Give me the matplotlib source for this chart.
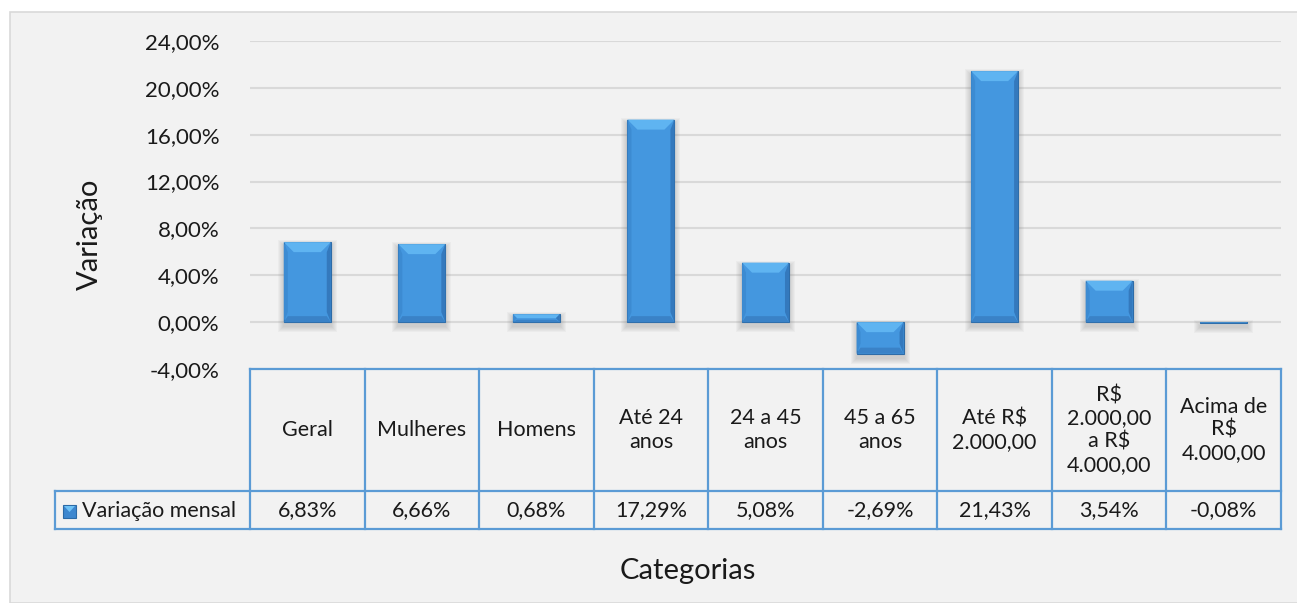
import matplotlib.pyplot as plt
from matplotlib.patches import Rectangle, Polygon
from matplotlib.lines import Line2D

# dados
categorias = ['Geral', 'Mulheres', 'Homens', 'Até 24\nanos', '24 a 45\nanos',
              '45 a 65\nanos', 'Até R$\n2.000,00', 'R$\n2.000,00\na R$\n4.000,00',
              'Acima de\nR$\n4.000,00']
variacao = [6.83, 6.66, 0.68, 17.29, 5.08, -2.69, 21.43, 3.54, -0.08]
rotulos = ['6,83%', '6,66%', '0,68%', '17,29%', '5,08%', '-2,69%', '21,43%', '3,54%', '-0,08%']
serie = 'Variação mensal'
yticks = [-4, 0, 4, 8, 12, 16, 20, 24]

plt.rcParams['font.family'] = ['Lato', 'DejaVu Sans']

W, H = 1297, 603
fig = plt.figure(figsize=(W / 100, H / 100), dpi=100)
fig.patch.set_facecolor('white')

# area do grafico (fundo cinza)
fig.patches.append(Rectangle((10 / W, 0), 1.2, 1 - 12 / H, transform=fig.transFigure,
                             facecolor='#f2f2f2', edgecolor='#d9d9d9', lw=1.2, zorder=-10))

left, right, top, bottom = 250, 1281, 41, 369
ax = fig.add_axes([left / W, 1 - bottom / H, (right - left) / W, (bottom - top) / H])
ax.set_facecolor('none')
n = len(categorias)
ax.set_xlim(-0.5, n - 0.5)
ax.set_ylim(-4, 24)
ax.set_yticks(yticks)
ax.set_yticklabels([f'{v},00%' for v in yticks], fontsize=16, color='#1a1a1a')
ax.set_xticks([])
ax.tick_params(axis='y', length=0, pad=22)
for s in ax.spines.values():
    s.set_visible(False)
ax.grid(axis='y', color='#d9d9d9', lw=1.5, zorder=0)
ax.set_axisbelow(True)

px_x = n / (right - left)      # unidades de dados por pixel
px_y = 28 / (bottom - top)
largura = 0.41


def barra(ax, x, h):
    x0, x1 = x - largura / 2, x + largura / 2
    topo, base = max(0, h), min(0, h)
    # sombra
    for i in range(6):
        r = (6 - i) * 1.0
        ax.add_patch(Rectangle((x0 - r * px_x, base - (4 + r) * px_y),
                               (x1 - x0) + 2 * r * px_x, (topo - base) + 2 * r * px_y,
                               facecolor='#7f7f7f', edgecolor='none', alpha=0.06, zorder=2))
    ax.add_patch(Rectangle((x0, base), x1 - x0, topo - base, facecolor='#4497df',
                           edgecolor='#2e6ca8', lw=0.8, zorder=3))
    by = min(10 * px_y, (topo - base) / 2)
    bx = min(10 * px_x, by / px_y * px_x)
    sx = min(4 * px_x, bx)
    faces = [
        ([(x0, topo), (x1, topo), (x1 - bx, topo - by), (x0 + bx, topo - by)], '#5fb4f1'),
        ([(x0, topo), (x0 + sx, topo - by), (x0 + sx, base + by), (x0, base)], '#3c8bd2'),
        ([(x1, topo), (x1 - sx, topo - by), (x1 - sx, base + by), (x1, base)], '#3479bd'),
        ([(x0, base), (x0 + sx, base + by * 0.6), (x1 - sx, base + by * 0.6), (x1, base)], '#3a82c7'),
    ]
    for pts, c in faces:
        ax.add_patch(Polygon(pts, closed=True, facecolor=c, edgecolor='none', zorder=4))


for i, v in enumerate(variacao):
    barra(ax, i, v)

fig.text(90 / W, 1 - 234 / H, 'Variação', rotation=90, ha='center', va='center',
         fontsize=21, color='#1a1a1a')

# tabela de dados
azul = '#5b9bd5'
col_w = (right - left) / n
linha1, linha2 = 491, 529
leg_x = 55


def fl(xs, ys):
    fig.add_artist(Line2D([x / W for x in xs], [1 - y / H for y in ys], color=azul, lw=1.6,
                          transform=fig.transFigure, zorder=5))


fl([left, right], [bottom, bottom])
fl([leg_x, right], [linha1, linha1])
fl([leg_x, right], [linha2, linha2])
fl([leg_x, leg_x], [linha1, linha2])
for i in range(n + 1):
    xc = left + i * col_w
    fl([xc, xc], [bottom, linha2])

for i, (cat, rot) in enumerate(zip(categorias, rotulos)):
    xc = (left + (i + 0.5) * col_w) / W
    fig.text(xc, 1 - (bottom + linha1) / 2 / H, cat, ha='center', va='center', fontsize=15.5,
             color='#1a1a1a', linespacing=1.2)
    fig.text(xc, 1 - (linha1 + linha2) / 2 / H, rot, ha='center', va='center', fontsize=15.5,
             color='#1a1a1a')

# chave da legenda
fig.patches.append(Rectangle((63 / W, 1 - 518 / H), 13 / W, 13 / H, transform=fig.transFigure,
                             facecolor='#3d87cf', edgecolor='#2b6aa6', lw=0.8, zorder=6))
fig.patches.append(Polygon([(64 / W, 1 - 506 / H), (75 / W, 1 - 506 / H), (69.5 / W, 1 - 512 / H)],
                           closed=True, transform=fig.transFigure, facecolor='#6ec2f6',
                           edgecolor='none', zorder=7))
fig.text(82 / W, 1 - 511 / H, serie, ha='left', va='center', fontsize=15.5, color='#1a1a1a')

fig.text(688 / W, 1 - 571 / H, 'Categorias', ha='center', va='center', fontsize=21,
         color='#1a1a1a')

fig.savefig('out.png', dpi=100, facecolor=fig.get_facecolor())
